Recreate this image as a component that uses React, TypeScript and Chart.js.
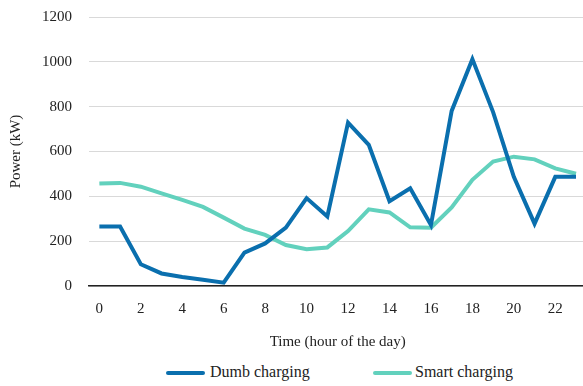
import React, { useEffect, useRef } from "react";
import { Chart, registerables } from "chart.js";

Chart.register(...registerables);

const hours = ["0","1","2","3","4","5","6","7","8","9","10","11","12","13","14","15","16","17","18","19","20","21","22","23"];
const dumbCharging = [265, 265, 97, 56, 40, 28, 15, 149, 190, 260, 392, 310, 729, 630, 378, 436, 272, 781, 1012, 776, 487, 278, 487, 487];
const smartCharging = [457, 460, 443, 413, 384, 353, 305, 256, 228, 183, 164, 172, 245, 342, 328, 262, 260, 350, 474, 555, 577, 565, 525, 501];
const yTicks = [0, 200, 400, 600, 800, 1000, 1200];
const seriesNames = ["Dumb charging", "Smart charging"];
const seriesColors = ["#0a6fae", "#62d1bd"];

const FONT = "'Liberation Serif', 'DejaVu Serif', serif";

export default function App() {
  const ref = useRef<HTMLCanvasElement | null>(null);
  useEffect(() => {
    document.body.style.margin = "0";
    if (!ref.current) return;
    const chart = new Chart(ref.current, {
      type: "line",
      data: {
        labels: hours,
        datasets: [
          {
            label: seriesNames[0],
            data: dumbCharging,
            borderColor: seriesColors[0],
            backgroundColor: seriesColors[0],
            borderWidth: 4,
            pointRadius: 0,
            tension: 0,
          },
          {
            label: seriesNames[1],
            data: smartCharging,
            borderColor: seriesColors[1],
            backgroundColor: seriesColors[1],
            borderWidth: 4,
            pointRadius: 0,
            tension: 0,
          },
        ],
      },
      options: {
        animation: false,
        responsive: false,
        maintainAspectRatio: false,
        layout: { padding: { left: 7, right: 0, top: 0, bottom: 4 } },
        plugins: {
          legend: { display: false },
          tooltip: { enabled: false },
        },
        scales: {
          x: {
            type: "category",
            offset: true,
            grid: { display: false, drawTicks: false },
            border: { display: true, color: "#222", width: 1.5 },
            ticks: {
              autoSkip: false,
              maxRotation: 0,
              padding: 14,
              color: "#222",
              font: { family: FONT, size: 15 },
              callback: (_v: any, i: number) => (i % 2 === 0 ? hours[i] : ""),
            },
            title: {
              display: true,
              text: "Time (hour of the day)",
              color: "#222",
              font: { family: FONT, size: 15 },
              padding: { top: 1, bottom: 6 },
            },
          },
          y: {
            min: 0,
            max: 1200,
            afterBuildTicks: (axis: any) => {
              axis.ticks = yTicks.map((v) => ({ value: v }));
            },
            grid: { color: "#d9d9d9", lineWidth: 1, drawTicks: false },
            border: { display: false },
            ticks: {
              padding: 17,
              color: "#222",
              font: { family: FONT, size: 15 },
              callback: (v: any) => String(v),
            },
            title: {
              display: true,
              text: "Power (kW)",
              color: "#222",
              font: { family: FONT, size: 15 },
              padding: { top: 0, bottom: 0 },
            },
          },
        },
      },
    });
    return () => chart.destroy();
  }, []);

  const legendItems = [
    { left: 166, textLeft: 210 },
    { left: 373, textLeft: 415 },
  ];

  return (
    <div style={{ position: "relative", width: 583, height: 386, overflow: "hidden" }}>
      <canvas
        ref={ref}
        width={590}
        height={370}
        style={{ display: "block", position: "absolute", left: 0, top: -9 }}
      />
      {seriesNames.map((name, i) => (
        <div key={name}>
          <div
            style={{
              position: "absolute",
              left: legendItems[i].left,
              top: 371,
              width: 39,
              height: 4,
              background: seriesColors[i],
              borderRadius: 2,
            }}
          />
          <div
            style={{
              position: "absolute",
              left: legendItems[i].textLeft,
              top: 362,
              fontFamily: FONT,
              fontSize: 16,
              lineHeight: "20px",
              color: "#222",
              whiteSpace: "nowrap",
            }}
          >
            {name}
          </div>
        </div>
      ))}
    </div>
  );
}
